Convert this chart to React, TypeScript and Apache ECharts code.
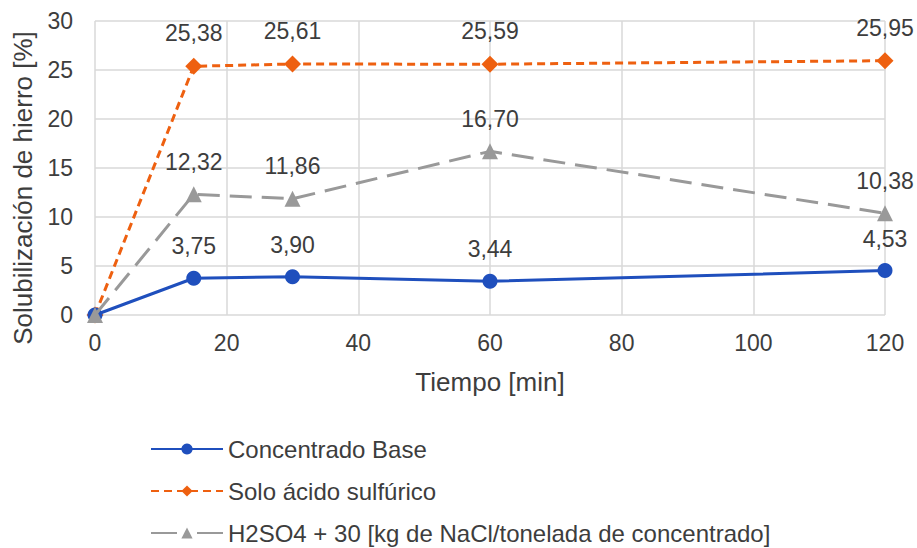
import React, { useEffect, useRef } from "react";
import * as echarts from "echarts";

const times = [0, 15, 30, 60, 120];
const baseValues = [0, 3.75, 3.9, 3.44, 4.53];
const acidValues = [0, 25.38, 25.61, 25.59, 25.95];
const naclValues = [0, 12.32, 11.86, 16.7, 10.38];
const seriesNames = [
  "Concentrado Base",
  "Solo ácido sulfúrico",
  "H2SO4 + 30 [kg de NaCl/tonelada de concentrado]",
];

const FONT = "Arial, 'Liberation Sans', sans-serif";
const TEXT = "#3d3d3d";

export default function App() {
  const ref = useRef<HTMLDivElement>(null);
  useEffect(() => {
    const chart = echarts.init(ref.current!, null, { renderer: "svg" });
    const pair = (vals: number[]) => times.map((t, i) => [t, vals[i]]);
    const label = {
      show: true,
      position: "top" as const,
      distance: 13,
      color: TEXT,
      fontSize: 23,
      fontFamily: FONT,
      formatter: (p: any) =>
        p.value[0] === 0 ? "" : p.value[1].toFixed(2).replace(".", ","),
    };
    chart.setOption({
      animation: false,
      textStyle: { fontFamily: FONT },
      grid: { left: 95, right: 32, top: 21, bottom: 233 },
      xAxis: {
        type: "value",
        min: 0,
        max: 120,
        interval: 20,
        name: "Tiempo [min]",
        nameLocation: "middle",
        nameGap: 54,
        nameTextStyle: { color: TEXT, fontSize: 26, fontFamily: FONT },
        axisLine: { show: false },
        axisTick: { show: false },
        axisLabel: { color: TEXT, fontSize: 23, margin: 16, fontFamily: FONT },
        splitLine: { show: true, lineStyle: { color: "#d9d9d9", width: 1.5 } },
      },
      yAxis: {
        type: "value",
        min: 0,
        max: 30,
        interval: 5,
        name: "Solubilización de hierro [%]",
        nameLocation: "middle",
        nameGap: 59,
        nameTextStyle: {
          color: TEXT,
          fontSize: 26,
          fontFamily: FONT,
          padding: [0, 40, 0, 0],
        },
        axisLine: { show: false },
        axisTick: { show: false },
        axisLabel: { color: TEXT, fontSize: 23, margin: 22, fontFamily: FONT },
        splitLine: { show: true, lineStyle: { color: "#d9d9d9", width: 1.5 } },
      },
      legend: {
        orient: "vertical",
        left: 150,
        top: 437,
        height: 200,
        padding: 0,
        itemWidth: 72,
        itemHeight: 14,
        itemGap: 18,
        textStyle: { color: TEXT, fontSize: 24, fontFamily: FONT },
        data: [
          { name: seriesNames[0] },
          { name: seriesNames[1] },
          { name: seriesNames[2], lineStyle: { type: [26, 20] } },
        ],
      },
      series: [
        {
          name: seriesNames[0],
          type: "line",
          data: pair(baseValues),
          symbol: "circle",
          symbolSize: 15,
          itemStyle: { color: "#1f4fbd" },
          lineStyle: { color: "#1f4fbd", width: 3 },
          label,
          z: 3,
        },
        {
          name: seriesNames[1],
          type: "line",
          data: pair(acidValues),
          symbol: "diamond",
          symbolSize: 17,
          itemStyle: { color: "#ee6010" },
          lineStyle: { color: "#ee6010", width: 3, type: [8, 5] },
          label,
          z: 2,
        },
        {
          name: seriesNames[2],
          type: "line",
          data: pair(naclValues),
          symbol: "triangle",
          symbolSize: 16,
          itemStyle: { color: "#999999" },
          lineStyle: { color: "#999999", width: 3, type: [22, 10] },
          label,
          z: 4,
        },
      ],
    });
    return () => chart.dispose();
  }, []);
  return (
    <div
      ref={ref}
      style={{ position: "absolute", left: 0, top: 0, width: 917, height: 548 }}
    />
  );
}
